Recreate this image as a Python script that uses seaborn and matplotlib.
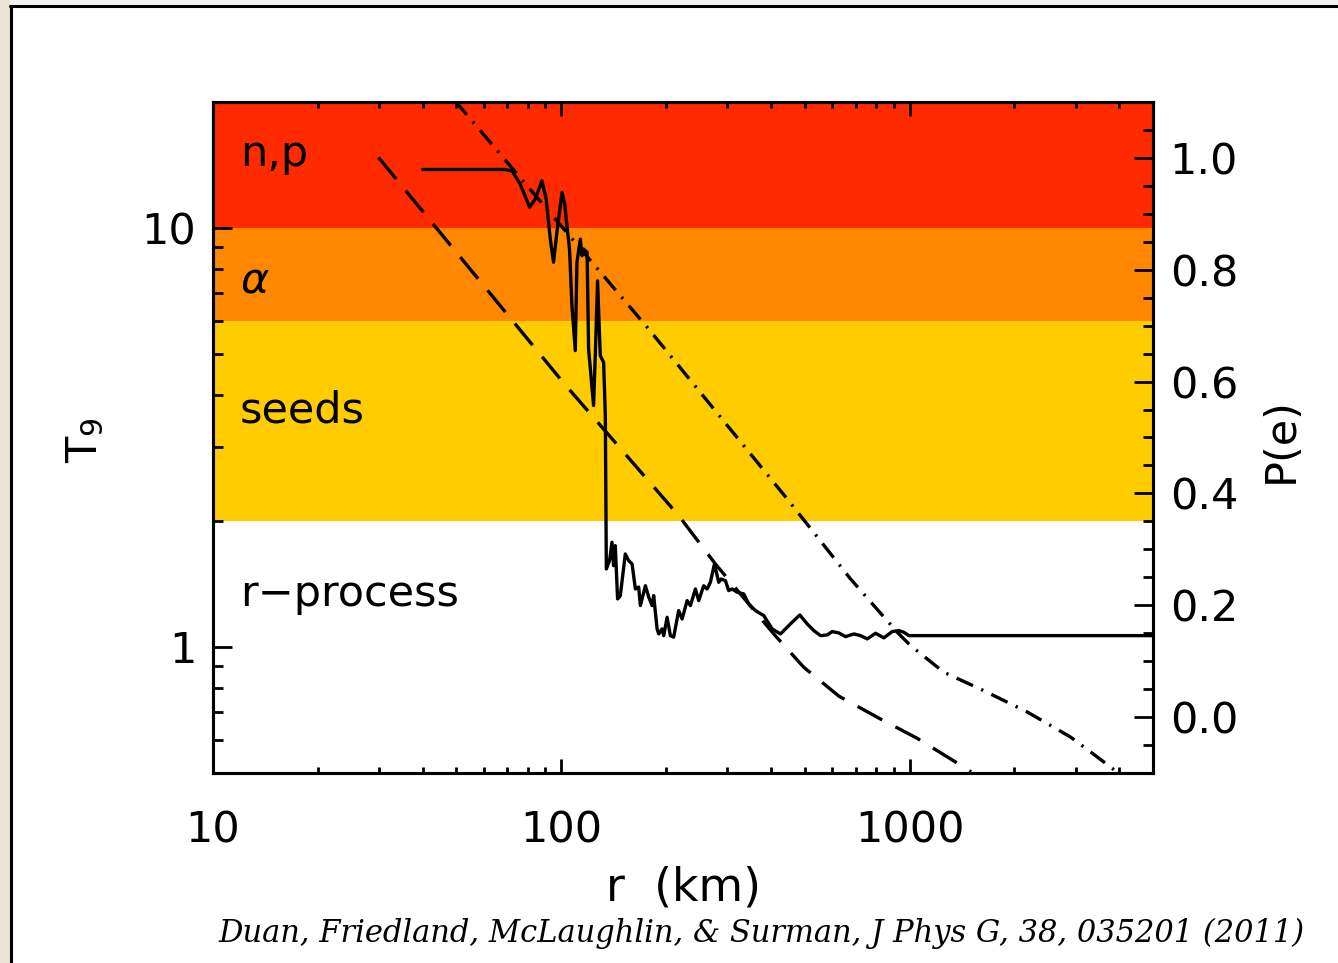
import matplotlib
matplotlib.use('Agg')
import matplotlib.pyplot as plt
import seaborn as sns
from matplotlib.ticker import FixedLocator, NullFormatter, FixedFormatter, MultipleLocator
from matplotlib.patches import Rectangle
from matplotlib.lines import Line2D

# ---------------- data ----------------
solid_r = [40.0, 69.0, 72.3, 76.2, 81.1, 84.2, 88.0, 90.5, 93.0, 95.0, 97.4, 100.5, 102.3, 103.8,
           105.6, 107.3, 109.7, 110.9, 113.4, 114.7, 115.9, 118.6, 119.8, 123.8, 125.2, 127.1,
           129.4, 132.3, 133.8, 134.7, 137.6, 139.8, 141.3, 142.9, 145.1, 147.7, 152.7, 156.1,
           159.7, 163.2, 166.8, 168.7, 174.4, 178.2, 182.3, 184.2, 188.4, 190.4, 194.7, 196.8,
           201.3, 205.7, 210.2, 217.3, 222.3, 229.8, 234.8, 242.7, 248.1, 256.4, 262.2, 268.0,
           275.3, 283.1, 287.7, 296.0, 302.5, 309.4, 319.8, 334.1, 345.3, 361.0, 381.4, 403.2,
           426.0, 455.0, 484.0, 508.2, 531.0, 555.0, 580.0, 599.7, 626.5, 654.9, 691.8, 723.2,
           755.9, 798.6, 843.7, 891.7, 931.7, 962.9, 995.4, 5000.0]
solid_T = [13.8, 13.8, 13.68, 12.74, 11.22, 11.73, 12.97, 11.73, 9.41, 8.29, 9.95, 12.17, 11.41, 10.13,
           8.91, 6.53, 5.10, 8.28, 9.41, 8.59, 8.91, 8.75, 5.14, 3.77, 4.96, 7.48,
           4.96, 4.78, 3.56, 1.535, 1.607, 1.778, 1.563, 1.745, 1.302, 1.324, 1.667, 1.607,
           1.578, 1.375, 1.39, 1.255, 1.40, 1.316, 1.255, 1.326, 1.104, 1.074, 1.104, 1.064,
           1.177, 1.064, 1.055, 1.221, 1.166, 1.29, 1.255, 1.375, 1.29, 1.40, 1.375, 1.427,
           1.578, 1.427, 1.453, 1.439, 1.363, 1.375, 1.351, 1.338, 1.266, 1.221, 1.188, 1.104,
           1.074, 1.135, 1.192, 1.135, 1.094, 1.064, 1.068, 1.088, 1.080, 1.058, 1.074, 1.064,
           1.045, 1.078, 1.051, 1.088, 1.094, 1.084, 1.064, 1.064]

dashed_r = [29.85, 101.5, 217.3, 277.0, 407.4, 497.0, 626.5, 816.4, 1052.0, 1371.0, 1503.0]
dashed_T = [14.75, 4.27, 2.058, 1.578, 1.074, 0.894, 0.763, 0.676, 0.605, 0.528, 0.503]

dashdot_r = [49.6, 178.2, 445.3, 676.9, 921.9, 1007.0, 1254.0, 1635.0, 2179.0, 2901.0, 3823.0, 3900.0]
dashdot_T = [20.1, 5.74, 2.256, 1.453, 1.084, 1.007, 0.870, 0.786, 0.699, 0.609, 0.513, 0.503]

band_lo = [2.0, 6.0, 10.0]
band_hi = [6.0, 10.0, 100.0]
band_colors = ['#FFCC00', '#FF8800', '#FF2A00']
region_labels = ['r\u2212process', 'seeds', r'$\alpha$', 'n,p']
region_label_T = [1.253, 3.44, 7.03, 14.06]

x_major = [10, 100, 1000]
x_major_labels = ['10', '100', '1000']
x_minor = [20, 30, 40, 50, 60, 70, 80, 90, 200, 300, 400, 500, 600, 700, 800, 900,
           2000, 3000, 4000, 5000]
y_major = [1, 10]
y_major_labels = ['1', '10']
y_minor = [0.6, 0.7, 0.8, 0.9, 2, 3, 4, 5, 6, 7, 8, 9, 20]
p_major = [0.0, 0.2, 0.4, 0.6, 0.8, 1.0]
p_major_labels = ['0.0', '0.2', '0.4', '0.6', '0.8', '1.0']

citation = "Duan, Friedland, McLaughlin, & Surman, J Phys G, 38, 035201 (2011)"

# ---------------- figure ----------------
sns.set_style('ticks')
plt.rcParams['font.family'] = ['DejaVu Sans']
plt.rcParams['mathtext.fontset'] = 'dejavusans'
for k in ['text.color', 'axes.labelcolor', 'xtick.color', 'ytick.color', 'axes.edgecolor']:
    plt.rcParams[k] = 'black'

W, H = 1338, 963
fig = plt.figure(figsize=(W / 100, H / 100), dpi=100)
fig.patch.set_facecolor('white')

# slide decoration
fig.patches.append(Rectangle((0, 0), 10 / W, 1, transform=fig.transFigure,
                             facecolor='#E9E4D3', edgecolor='none', zorder=0))
fig.patches.append(Rectangle((10 / W, 1 - 6 / H), 1, 6 / H, transform=fig.transFigure,
                             facecolor='#F4F3EF', edgecolor='none', zorder=0))
fig.lines.append(Line2D([10.5 / W, 10.5 / W], [0, 1 - 6 / H], transform=fig.transFigure,
                        color='black', lw=2.2))
fig.lines.append(Line2D([10 / W, 1], [1 - 6.5 / H, 1 - 6.5 / H], transform=fig.transFigure,
                        color='black', lw=2.2))

ax = fig.add_axes([213 / W, (H - 773) / H, 940 / W, 671 / H])
ax.set_facecolor('white')
ax.set_xscale('log')
ax.set_yscale('log')
ax.set_xlim(10, 5000)
ax.set_ylim(0.5, 20)

for lo, hi, c in zip(band_lo, band_hi, band_colors):
    ax.axhspan(lo, hi, color=c, lw=0, zorder=0)

LW = 2.4
sns.lineplot(x=solid_r, y=solid_T, ax=ax, color='black', linewidth=LW,
             estimator=None, sort=False, zorder=3)
sns.lineplot(x=dashed_r, y=dashed_T, ax=ax, color='black', linewidth=LW,
             estimator=None, sort=False, zorder=3)
ax.lines[-1].set_dashes([8.4, 4.5])
sns.lineplot(x=dashdot_r, y=dashdot_T, ax=ax, color='black', linewidth=LW,
             estimator=None, sort=False, zorder=3)
ax.lines[-1].set_dashes([5.4, 2.7, 0.7, 2.7])
for ln in ax.lines:
    ln.set_linewidth(LW)
    ln.set_solid_joinstyle('round')

for lab, t in zip(region_labels, region_label_T):
    ax.text(11.96, t, lab, fontsize=31, ha='left', va='baseline', color='black', zorder=4)

ax.xaxis.set_major_locator(FixedLocator(x_major))
ax.xaxis.set_major_formatter(FixedFormatter(x_major_labels))
ax.xaxis.set_minor_locator(FixedLocator(x_minor))
ax.xaxis.set_minor_formatter(NullFormatter())
ax.yaxis.set_major_locator(FixedLocator(y_major))
ax.yaxis.set_major_formatter(FixedFormatter(y_major_labels))
ax.yaxis.set_minor_locator(FixedLocator(y_minor))
ax.yaxis.set_minor_formatter(NullFormatter())

ax.tick_params(axis='x', which='both', direction='in', top=True, bottom=True,
               width=2, labelsize=31, pad=26)
ax.tick_params(axis='x', which='major', length=10)
ax.tick_params(axis='x', which='minor', length=4.5)
ax.tick_params(axis='y', which='both', direction='in', left=True, right=False,
               width=2, labelsize=31, pad=12)
ax.tick_params(axis='y', which='major', length=14)
ax.tick_params(axis='y', which='minor', length=7)

for s in ax.spines.values():
    s.set_linewidth(2.2)
    s.set_color('black')
    s.set_zorder(5)

ax.set_xlabel('r  (km)', fontsize=33, labelpad=10)
ax.set_ylabel(r'T$_\mathregular{9}$', fontsize=31, ha='center', va='center')
ax.yaxis.set_label_coords(-0.136, 0.496)

ax2 = ax.twinx()
ax2.set_ylim(-0.1, 1.1)
ax2.yaxis.set_major_locator(FixedLocator(p_major))
ax2.yaxis.set_major_formatter(FixedFormatter(p_major_labels))
ax2.yaxis.set_minor_locator(MultipleLocator(0.05))
ax2.yaxis.set_minor_formatter(NullFormatter())
ax2.tick_params(axis='y', which='both', direction='in', width=2, labelsize=31, pad=12)
ax2.tick_params(axis='y', which='major', length=14)
ax2.tick_params(axis='y', which='minor', length=7)
for s in ax2.spines.values():
    s.set_linewidth(2.2)
    s.set_color('black')
ax2.set_ylabel('P(e)', fontsize=31, ha='center', va='center', rotation=90)
ax2.yaxis.set_label_coords(1.136, 0.496)

fig.text(1305 / W, (H - 933) / H, citation, fontsize=22, style='italic',
         family=['DejaVu Serif'], ha='right', va='center')

fig.savefig('out.png', dpi=100, facecolor=fig.get_facecolor())
